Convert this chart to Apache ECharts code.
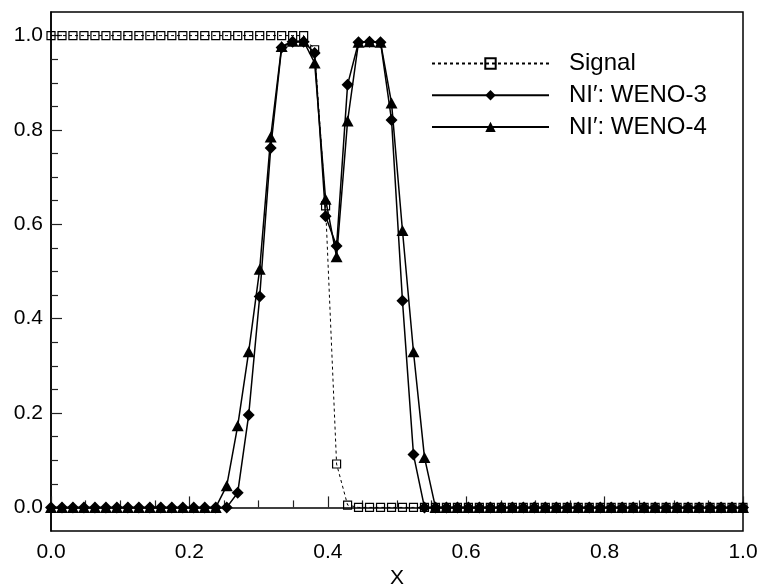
<!DOCTYPE html>
<html>
<head>
<meta charset="utf-8">
<script src="https://cdn.jsdelivr.net/npm/echarts@6/dist/echarts.min.js"></script>
<style>html,body{margin:0;padding:0;background:#fff}#c{width:763px;height:588px}</style>
</head>
<body>
<div id="c"></div>
<script>
// x grid positions (64 points on [0,1])
var xValues = [0, 0.0159, 0.0317, 0.0476, 0.0635, 0.0794, 0.0952, 0.1111, 0.1270, 0.1429,
  0.1587, 0.1746, 0.1905, 0.2063, 0.2222, 0.2381, 0.2540, 0.2698, 0.2857, 0.3016,
  0.3175, 0.3333, 0.3492, 0.3651, 0.3810, 0.3968, 0.4127, 0.4286, 0.4444, 0.4603,
  0.4762, 0.4921, 0.5079, 0.5238, 0.5397, 0.5556, 0.5714, 0.5873, 0.6032, 0.6190,
  0.6349, 0.6508, 0.6667, 0.6825, 0.6984, 0.7143, 0.7302, 0.7460, 0.7619, 0.7778,
  0.7937, 0.8095, 0.8254, 0.8413, 0.8571, 0.8730, 0.8889, 0.9048, 0.9206, 0.9365,
  0.9524, 0.9683, 0.9841, 1.0];

var signalValues = [1,1,1,1,1,1,1,1,1,1, 1,1,1,1,1,1,1,1,1,1, 1,1,1,1,
  0.97, 0.639, 0.092, 0.005,
  0,0,0,0,0,0,0,0,0,0, 0,0,0,0,0,0,0,0,0,0, 0,0,0,0,0,0,0,0,0,0, 0,0,0,0,0,0];

var weno3Values = [0,0,0,0,0,0,0,0,0,0, 0,0,0,0,0,0,0,
  0.031, 0.196, 0.447, 0.762, 0.975, 0.987, 0.987, 0.963, 0.617, 0.554,
  0.896, 0.986, 0.987, 0.986, 0.821, 0.438, 0.112,
  0,0,0,0,0,0,0,0,0,0, 0,0,0,0,0,0,0,0,0,0, 0,0,0,0,0,0,0,0,0,0];

var weno4Values = [0,0,0,0,0,0,0,0,0,0, 0,0,0,0,0,0,
  0.046, 0.173, 0.33, 0.505, 0.785, 0.977, 0.988, 0.988, 0.942, 0.653,
  0.531, 0.819, 0.986, 0.987, 0.986, 0.857, 0.587, 0.33, 0.106,
  0,0,0,0,0,0,0,0,0,0, 0,0,0,0,0,0,0,0,0,0, 0,0,0,0,0,0,0,0,0];

var seriesNames = ['Signal', 'NI\u2032: WENO-3', 'NI\u2032: WENO-4'];
var yMajorTicks = [0, 0.2, 0.4, 0.6, 0.8, 1.0];
var yMinorTicks = [0.05, 0.1, 0.15, 0.25, 0.3, 0.35, 0.45, 0.5, 0.55, 0.65, 0.7, 0.75, 0.85, 0.9, 0.95];

function pairs(ys) { return ys.map(function (y, i) { return [xValues[i], y]; }); }

var FONT = '"Liberation Sans", Arial, Helvetica, sans-serif';
var chart = echarts.init(document.getElementById('c'), null, {renderer: 'canvas'});
chart.setOption({
  animation: false,
  backgroundColor: '#fff',
  textStyle: {fontFamily: FONT},
  grid: {left: 51, right: 20, top: 12, bottom: 57, outerBoundsMode: 'none', containLabel: false,
    show: true, borderColor: '#000', borderWidth: 1.5, backgroundColor: 'transparent'},
  legend: {
    orient: 'vertical', left: 431, top: 51.5, padding: 0, itemGap: 7.7,
    itemWidth: 117, itemHeight: 13,
    textStyle: {fontFamily: FONT, fontSize: 24, color: '#000', lineHeight: 24, padding: [0, 0, 0, 15]},
    data: seriesNames
  },
  xAxis: {
    type: 'value', min: 0, max: 1, interval: 0.2,
    name: 'X', nameLocation: 'middle', nameGap: 35,
    nameTextStyle: {fontFamily: FONT, fontSize: 21, color: '#000'},
    axisLine: {show: true, lineStyle: {color: '#000', width: 1.5}},
    axisTick: {show: true, inside: true, length: 11, lineStyle: {color: '#222', width: 1.2}},
    minorTick: {show: true, splitNumber: 4, length: 7, lineStyle: {color: '#222', width: 1.2}},
    axisLabel: {fontFamily: FONT, fontSize: 21, color: '#000', margin: 11, formatter: function (v) { return v.toFixed(1); }},
    splitLine: {show: false}
  },
  yAxis: [{
    type: 'value', min: -0.05, max: 1.05,
    axisLine: {show: true, lineStyle: {color: '#000', width: 1.5}},
    axisTick: {show: true, inside: true, length: 11, customValues: yMajorTicks, lineStyle: {color: '#222', width: 1.2}},
    axisLabel: {fontFamily: FONT, fontSize: 21, color: '#000', margin: 8, customValues: yMajorTicks, formatter: function (v) { return v.toFixed(1); }},
    splitLine: {show: false}
  }, {
    type: 'value', min: -0.05, max: 1.05, position: 'left',
    axisLine: {show: false},
    axisTick: {show: true, inside: true, length: 7, customValues: yMinorTicks, lineStyle: {color: '#222', width: 1.2}},
    axisLabel: {show: false},
    splitLine: {show: false}
  }],
  series: [{
    name: seriesNames[0], type: 'line', data: pairs(signalValues), clip: false,
    symbol: 'rect', symbolSize: 8,
    lineStyle: {color: '#000', width: 1, type: [3, 3]},
    itemStyle: {color: 'rgba(255,255,255,0)', borderColor: '#000', borderWidth: 1.2}
  }, {
    name: seriesNames[1], type: 'line', data: pairs(weno3Values), clip: false,
    symbol: 'diamond', symbolSize: 12,
    lineStyle: {color: '#000', width: 1.5},
    itemStyle: {color: '#000'}
  }, {
    name: seriesNames[2], type: 'line', data: pairs(weno4Values), clip: false,
    symbol: 'triangle', symbolSize: [12, 11],
    lineStyle: {color: '#000', width: 1.5},
    itemStyle: {color: '#000'}
  }]
});
</script>
</body>
</html>
